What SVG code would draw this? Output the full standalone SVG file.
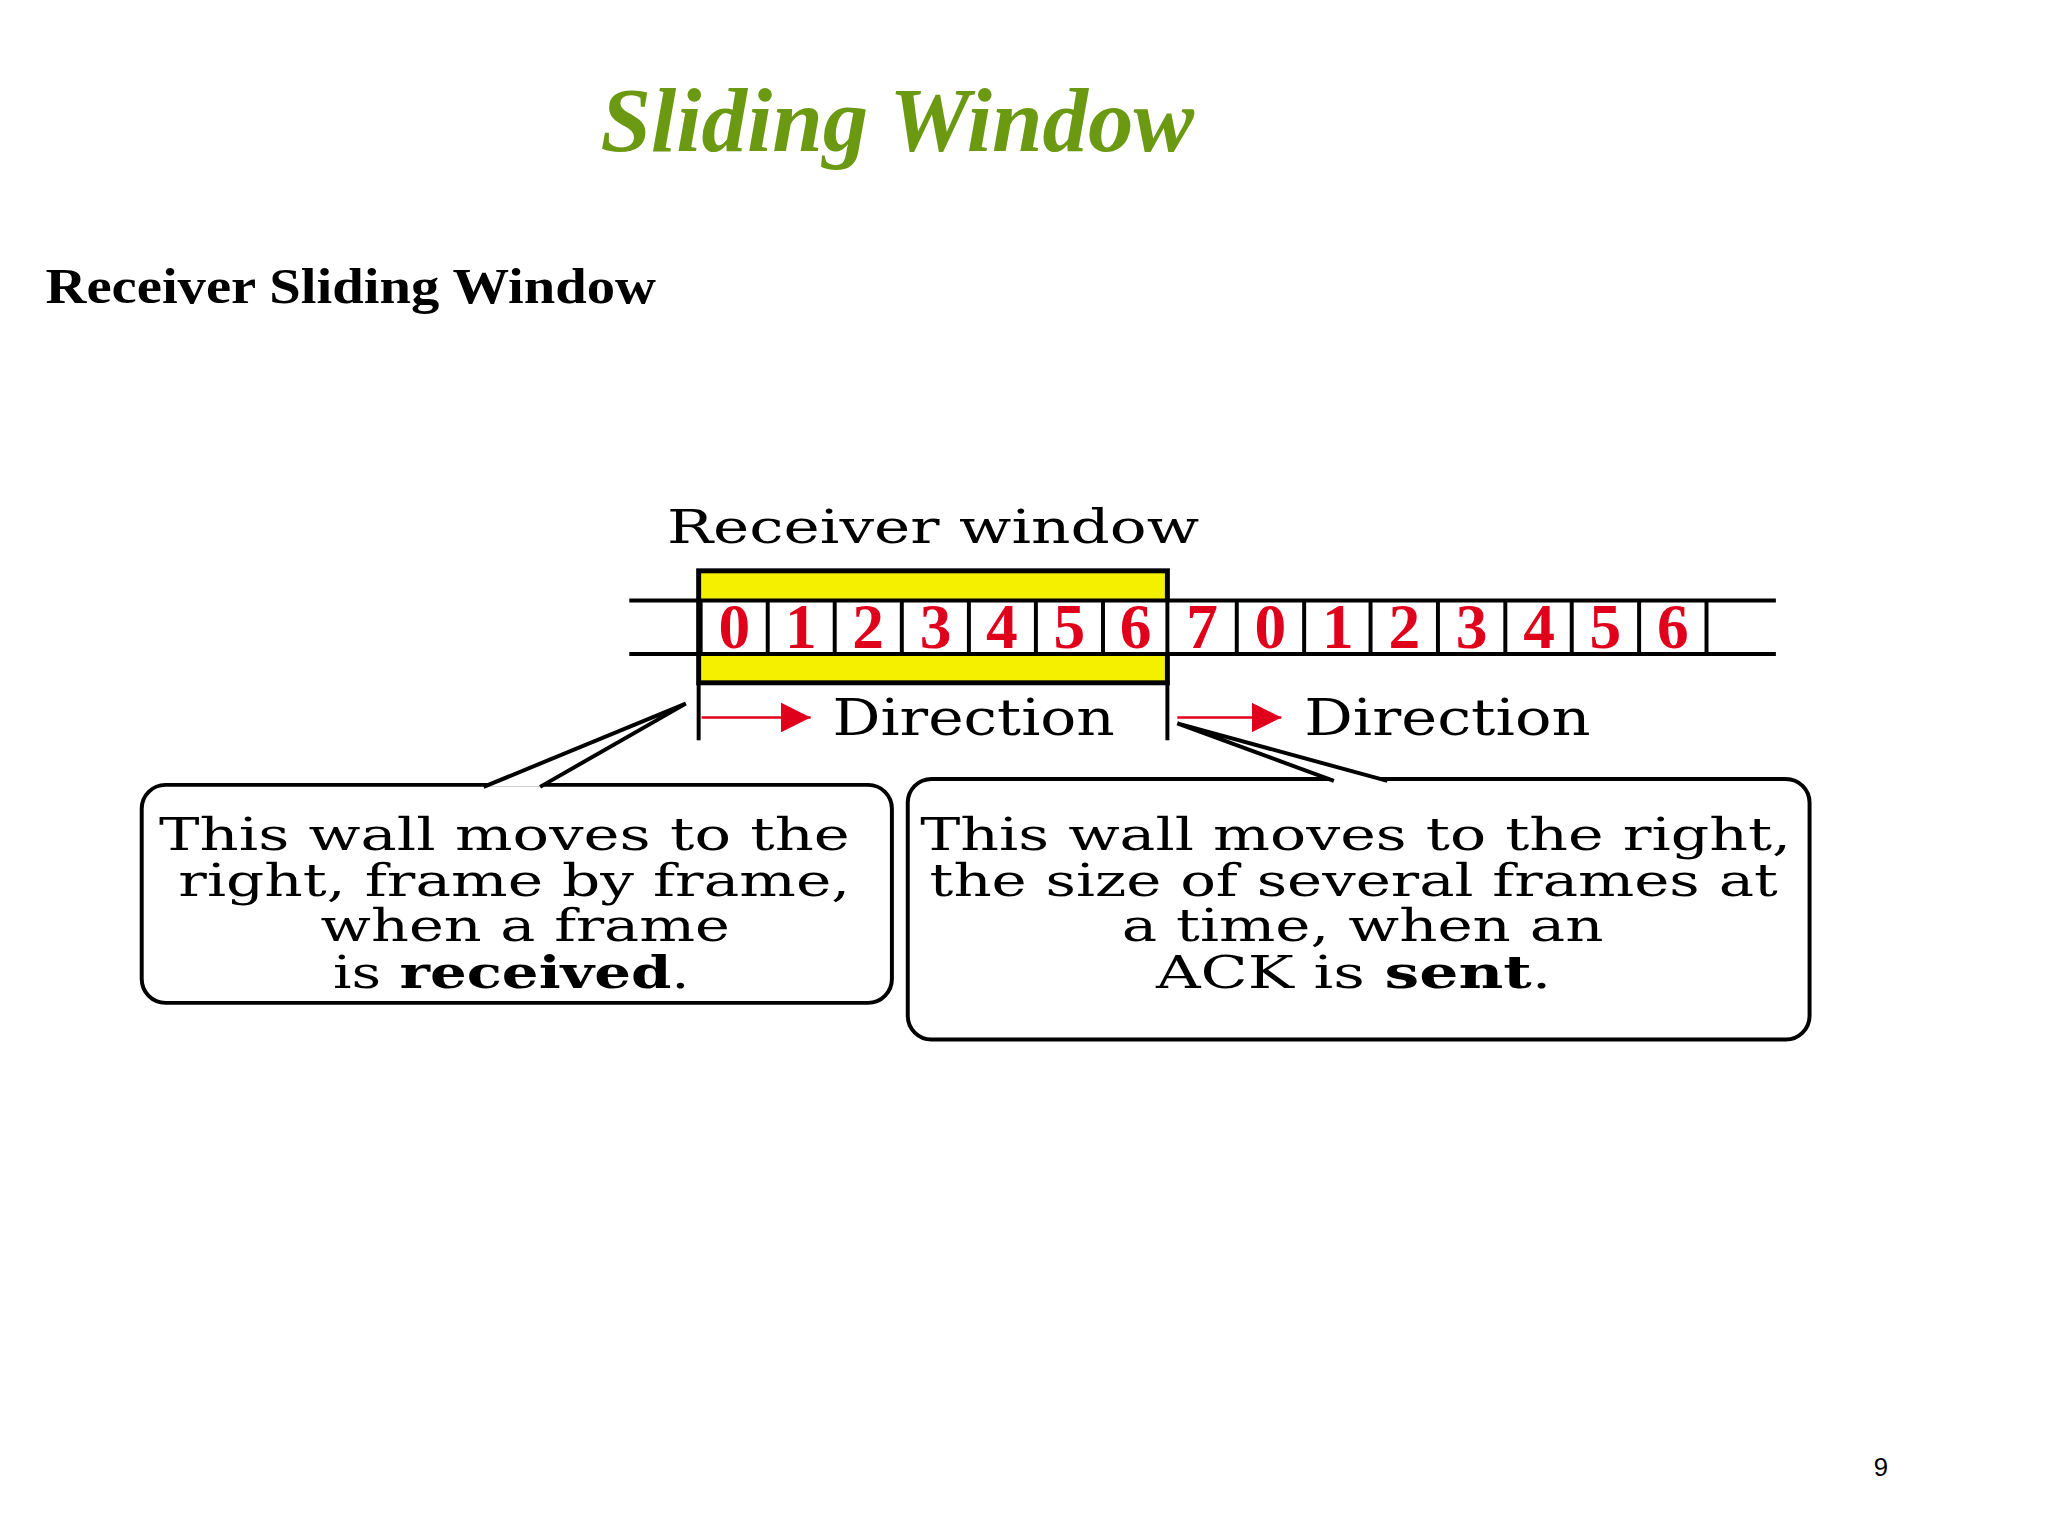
<svg xmlns="http://www.w3.org/2000/svg" width="2048" height="1536" viewBox="0 0 2048 1536">
<style>
.t{font-family:"DejaVu Serif","Liberation Serif",serif;fill:#000}
.n{font-family:"Liberation Serif",serif;font-weight:bold;font-size:64px;fill:#e0001b;text-anchor:middle}
.ln{stroke:#000;stroke-width:4;fill:none}
.box{stroke:#000;stroke-width:4;fill:#fff}
</style>
<defs>
<marker id="ah2" viewBox="0 0 10 10" markerWidth="30" markerHeight="30" refX="10" refY="5" orient="auto" markerUnits="userSpaceOnUse"><path d="M0,0 L10,5 L0,10z" fill="#e0001b"/></marker></defs>
<rect width="2048" height="1536" fill="#fff"/>
<g transform="scale(0.991)">
<text x="606" y="152" textLength="599" lengthAdjust="spacingAndGlyphs" style="font-family:'Liberation Serif',serif;font-size:92px;font-weight:bold;font-style:italic;fill:#6b9a12">Sliding Window</text>
<text x="46" y="306" textLength="616" lengthAdjust="spacingAndGlyphs" style="font-family:'Liberation Serif',serif;font-size:52px;font-weight:bold">Receiver Sliding Window</text>
<text x="673" y="548" textLength="537" lengthAdjust="spacingAndGlyphs" class="t" style="font-size:48px">Receiver window</text>
<g id="window"><rect x="705" y="576" width="473" height="113" fill="#f5f000" stroke="#000" stroke-width="5"/></g>
<g id="strip">
<rect x="707" y="606" width="1015" height="54" fill="#fff"/>
<line x1="635" y1="606" x2="1792" y2="606" class="ln"/>
<line x1="635" y1="660" x2="1792" y2="660" class="ln"/>
<path d="M707,606V660M774.7,606V660M842.3,606V660M910,606V660M977.7,606V660M1045.3,606V660M1113,606V660M1178,606V660M1248,606V660M1316,606V660M1383,606V660M1451,606V660M1519,606V660M1586,606V660M1654,606V660M1722,606V660" stroke="#000" stroke-width="4"/>
<g class="n">
<text x="741" y="654">0</text><text x="808" y="654">1</text><text x="876" y="654">2</text><text x="944" y="654">3</text><text x="1011" y="654">4</text><text x="1079" y="654">5</text><text x="1146" y="654">6</text>
<text x="1213" y="654">7</text><text x="1282" y="654">0</text><text x="1350" y="654">1</text><text x="1417" y="654">2</text><text x="1485" y="654">3</text><text x="1553" y="654">4</text><text x="1620" y="654">5</text><text x="1688" y="654">6</text>
</g>
</g>
<g id="walls">
<line x1="705" y1="689" x2="705" y2="747" class="ln"/>
<line x1="1178" y1="689" x2="1178" y2="747" class="ln"/>
</g>
<g id="connectors">
<line x1="708" y1="724" x2="818" y2="724" stroke="#e0001b" stroke-width="2.5" marker-end="url(#ah2)"/>
<line x1="1188" y1="724" x2="1293" y2="724" stroke="#e0001b" stroke-width="2.5" marker-end="url(#ah2)"/>
</g>
<text x="840" y="742" textLength="285" lengthAdjust="spacingAndGlyphs" class="t" style="font-size:50px">Direction</text>
<text x="1316" y="742" textLength="289" lengthAdjust="spacingAndGlyphs" class="t" style="font-size:50px">Direction</text>
<g id="left-callout">
<rect x="143" y="792" width="757" height="220" rx="24" class="box"/>
<path d="M488,794 L692,710 L545,794" fill="#fff" stroke="#000" stroke-width="4"/>
<g class="t" style="font-size:46px" text-anchor="middle">
<text x="509" y="858" textLength="697" lengthAdjust="spacingAndGlyphs">This wall moves to the</text>
<text x="519" y="904" textLength="678" lengthAdjust="spacingAndGlyphs">right, frame by frame,</text>
<text x="530" y="950" textLength="413" lengthAdjust="spacingAndGlyphs">when a frame</text>
<text x="516" y="997" textLength="360" lengthAdjust="spacingAndGlyphs">is <tspan font-weight="bold">received</tspan>.</text>
</g>
</g>
<g id="right-callout">
<rect x="916" y="786" width="910" height="263" rx="24" class="box"/>
<path d="M1346,788 L1188,730 L1400,788" fill="#fff" stroke="#000" stroke-width="4"/>
<g class="t" style="font-size:46px" text-anchor="middle">
<text x="1368" y="858" textLength="879" lengthAdjust="spacingAndGlyphs">This wall moves to the right,</text>
<text x="1366" y="904" textLength="856" lengthAdjust="spacingAndGlyphs">the size of several frames at</text>
<text x="1375" y="950" textLength="486" lengthAdjust="spacingAndGlyphs">a time, when an</text>
<text x="1366" y="997" textLength="399" lengthAdjust="spacingAndGlyphs">ACK is <tspan font-weight="bold">sent</tspan>.</text>
</g>
</g>
<text x="1898" y="1489" style="font-family:'Liberation Sans',sans-serif;font-size:26px" text-anchor="middle">9</text>
</g>
</svg>
